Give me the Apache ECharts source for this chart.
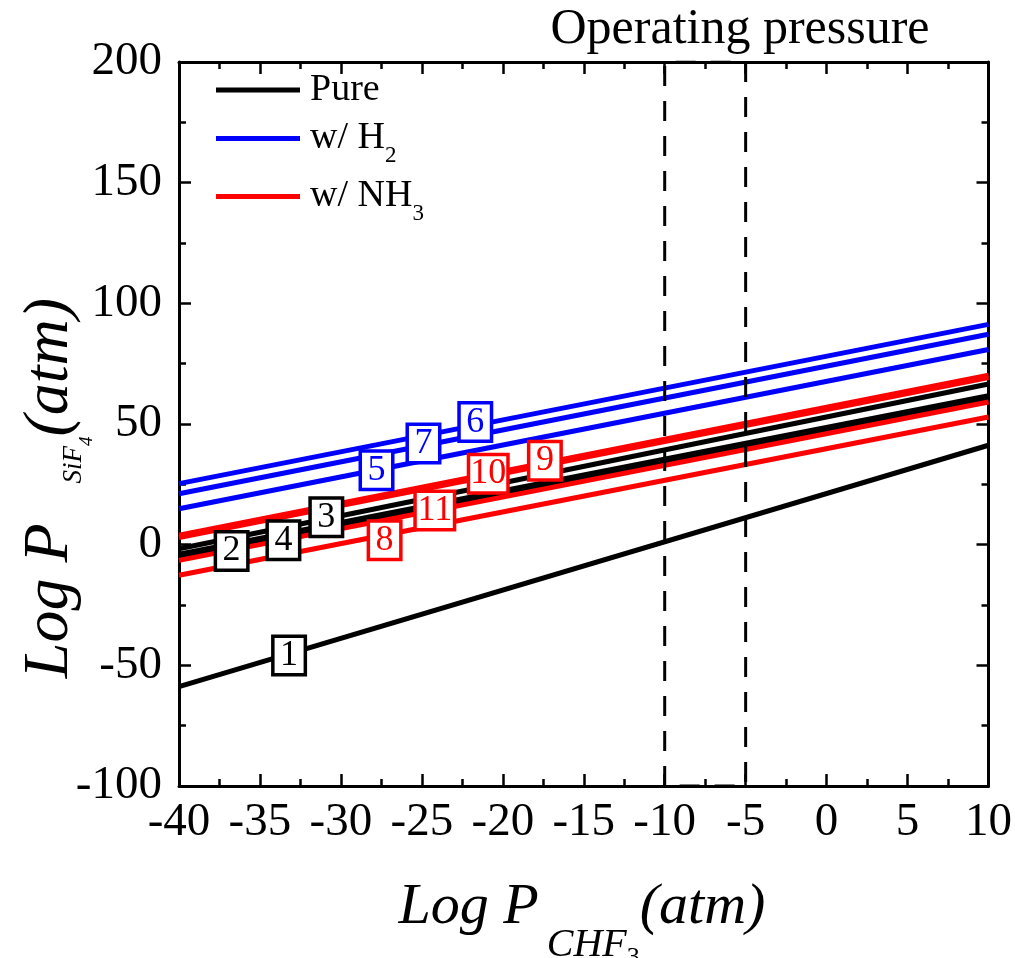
<!DOCTYPE html>
<html>
<head>
<meta charset="utf-8">
<script src="https://cdn.jsdelivr.net/npm/echarts@6/dist/echarts.min.js"></script>
<style>
html,body{margin:0;padding:0;background:#fff;}
#main{width:1015px;height:958px;}
</style>
</head>
<body>
<div id="main"></div>
<script>
var FONT = '"Liberation Serif", "Times New Roman", serif';

// x range of every line (Log P_CHF3)
var xEnds = [-40, 10];

// Pure: lines 1-4 (value at x=-40 and at x=10)
var pureIds   = ['1', '2', '3', '4'];
var pureStart = [-58.8, -4.9, -1.7, -3.9];
var pureEnd   = [41.2, 60.7, 66.6, 61.7];
var pureLabX  = [-33.2, -36.75, -30.9, -33.55];
var pureLabY  = [-45.9, -2.6, 11.4, 1.8];

// w/ H2: lines 5-7
var h2Ids   = ['5', '6', '7'];
var h2Start = [14.9, 25.3, 21.1];
var h2End   = [80.9, 91.3, 87.2];
var h2LabX  = [-27.8, -21.7, -24.9];
var h2LabY  = [30.8, 50.8, 41.9];

// w/ NH3: lines 8-11
var nh3Ids   = ['8', '9', '10', '11'];
var nh3Start = [-12.7, 3.9, 2.9, -6.5];
var nh3End   = [52.9, 70.2, 69.2, 59.1];
var nh3LabX  = [-27.3, -17.4, -20.9, -24.2];
var nh3LabY  = [1.8, 34.8, 29.4, 14.2];

// operating pressure window
var opX = [-10, -5];
var opY = [-100, 200];

var groups = [
  {name: 'Pure',   color: '#000000', ids: pureIds, start: pureStart, end: pureEnd, lx: pureLabX, ly: pureLabY},
  {name: 'w/ H2',  color: '#0000ff', ids: h2Ids,   start: h2Start,   end: h2End,   lx: h2LabX,   ly: h2LabY},
  {name: 'w/ NH3', color: '#ff0000', ids: nh3Ids,  start: nh3Start,  end: nh3End,  lx: nh3LabX,  ly: nh3LabY}
];

var series = [];
groups.forEach(function (g) {
  for (var i = 0; i < g.ids.length; i++) {
    series.push({
      name: g.name,
      type: 'line',
      data: [[xEnds[0], g.start[i]], [xEnds[1], g.end[i]]],
      symbol: 'none',
      color: g.color,
      lineStyle: {color: g.color, width: 5},
      z: 2
    });
  }
});

// dashed box
series.push({
  name: 'op',
  type: 'line',
  data: [[opX[0], opY[0]], [opX[0], opY[1]], [opX[1], opY[1]], [opX[1], opY[0]], [opX[0], opY[0]]],
  symbol: 'none',
  lineStyle: {color: '#000', width: 3, type: [20, 15]},
  z: 3
});

// numbered boxes
groups.forEach(function (g) {
  series.push({
    name: g.name + '-lab',
    type: 'scatter',
    symbol: 'rect',
    symbolSize: 1,
    itemStyle: {color: 'rgba(0,0,0,0)'},
    z: 5,
    data: g.ids.map(function (id, i) {
      return {value: [g.lx[i], g.ly[i]], name: id, label: {width: id.length > 1 ? 28 : 21}};
    }),
    label: {
      show: true,
      position: 'inside',
      formatter: '{b}',
      fontFamily: FONT,
      fontSize: 36,
      lineHeight: 31,
      align: 'center',
      color: g.color,
      opacity: 1,
      backgroundColor: '#fff',
      borderColor: g.color,
      borderWidth: 3.5,
      padding: [2, 4]
    }
  });
});

function axisCommon(extra) {
  var o = {
    axisLine: {show: true, onZero: false, lineStyle: {color: '#000', width: 3}},
    axisTick: {show: true, inside: true, length: 12, lineStyle: {color: '#000', width: 2.5}},
    minorTick: {show: true, splitNumber: 2, length: 7, lineStyle: {color: '#000', width: 2.5}},
    splitLine: {show: false}
  };
  for (var k in extra) o[k] = extra[k];
  return o;
}

var legendRich = {
  m: {fontFamily: FONT, fontSize: 38, lineHeight: 42, color: '#000', verticalAlign: 'middle'},
  s: {fontFamily: FONT, fontSize: 23, lineHeight: 24, color: '#000', verticalAlign: 'middle', padding: [34, 0, 0, 0]}
};
function legendFmt(name) {
  if (name === 'w/ H2') return '{m|w/ H}{s|2}';
  if (name === 'w/ NH3') return '{m|w/ NH}{s|3}';
  return '{m|' + name + '}';
}
function mkLegend(name, top) {
  return {
    data: [name], left: 216, top: top, padding: 0,
    icon: 'rect', itemWidth: 84, itemHeight: 5,
    formatter: legendFmt,
    textStyle: {rich: legendRich, padding: [0, 0, 0, 5]}
  };
}

var chart = echarts.init(document.getElementById('main'));
chart.setOption({
  animation: false,
  backgroundColor: '#fff',
  grid: {left: 179, right: 26, top: 62, bottom: 172, containLabel: false},
  legend: [mkLegend('Pure', 71), mkLegend('w/ H2', 110), mkLegend('w/ NH3', 168)],
  xAxis: [
    axisCommon({type: 'value', min: -40, max: 10, interval: 5, position: 'bottom',
      axisLabel: {fontFamily: FONT, fontSize: 47, color: '#000', margin: 13}}),
    axisCommon({type: 'value', min: -40, max: 10, interval: 5, position: 'top',
      axisLabel: {show: false}})
  ],
  yAxis: [
    axisCommon({type: 'value', min: -100, max: 200, interval: 50, position: 'left',
      axisLabel: {fontFamily: FONT, fontSize: 47, color: '#000', margin: 17}}),
    axisCommon({type: 'value', min: -100, max: 200, interval: 50, position: 'right',
      axisLabel: {show: false}})
  ],
  graphic: [
    {
      type: 'text', x: 740, y: 30, z: 10,
      style: {text: 'Operating pressure', font: '50px ' + FONT, fill: '#000',
        align: 'center', verticalAlign: 'middle', textAlign: 'center', textVerticalAlign: 'middle'}
    },
    {
      type: 'text', x: 582, y: 908, z: 10,
      style: {
        text: '{m|Log P}{s|CHF}{t|3}{m|(atm)}',
        align: 'center', verticalAlign: 'middle', textAlign: 'center', textVerticalAlign: 'middle',
        rich: {
          m: {fontFamily: FONT, fontStyle: 'italic', fontSize: 58, lineHeight: 60, fill: '#000', verticalAlign: 'middle'},
          s: {fontFamily: FONT, fontStyle: 'italic', fontSize: 40, lineHeight: 40, fill: '#000', verticalAlign: 'middle', padding: [74, 0, 0, 8]},
          t: {fontFamily: FONT, fontSize: 26, lineHeight: 26, fill: '#000', verticalAlign: 'middle', padding: [100, 0, 0, 0]}
        }
      }
    },
    {
      type: 'text', x: 50, y: 488, rotation: Math.PI / 2, z: 10,
      style: {
        text: '{m|Log P}{s|SiF}{t|4}{m|(atm)}',
        align: 'center', verticalAlign: 'middle', textAlign: 'center', textVerticalAlign: 'middle',
        rich: {
          m: {fontFamily: FONT, fontStyle: 'italic', fontSize: 64, lineHeight: 66, fill: '#000', verticalAlign: 'middle'},
          s: {fontFamily: FONT, fontStyle: 'italic', fontSize: 27, lineHeight: 28, fill: '#000', verticalAlign: 'middle', padding: [48, 0, 0, 40]},
          t: {fontFamily: FONT, fontStyle: 'italic', fontSize: 19, lineHeight: 20, fill: '#000', verticalAlign: 'middle', padding: [74, 0, 0, 0]}
        }
      }
    }
  ],
  series: series
});
</script>
</body>
</html>
